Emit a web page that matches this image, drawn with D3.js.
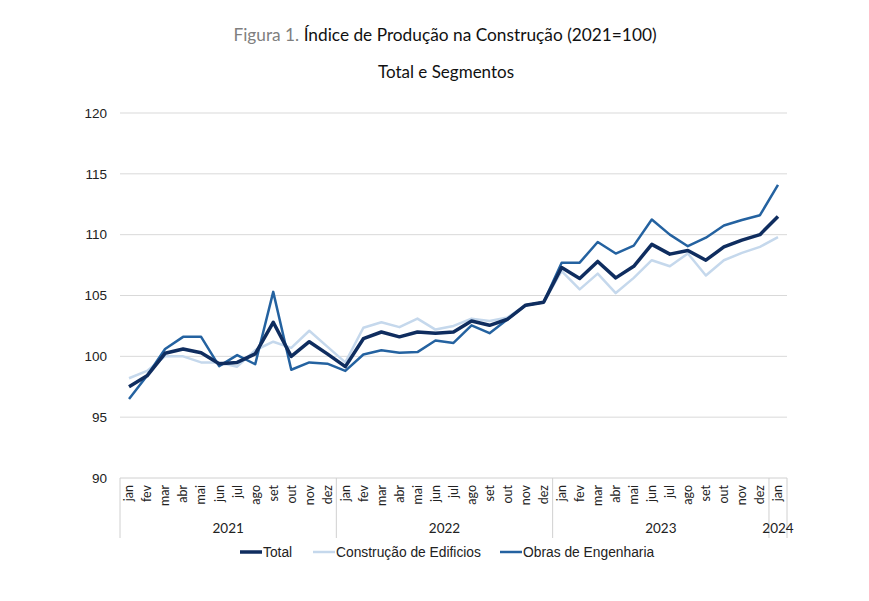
<!DOCTYPE html>
<html><head><meta charset="utf-8">
<script src="https://cdn.jsdelivr.net/npm/d3@7"></script>
<style>body{margin:0;background:#fff}</style>
</head><body>
<script>
const months = ["jan","fev","mar","abr","mai","jun","jul","ago","set","out","nov","dez"];
const years = ["2021","2022","2023","2024"];
const categories = [];
years.forEach((y,yi)=>{ const n = y==="2024"?1:12; for(let m=0;m<n;m++) categories.push({year:y, month:months[m], key:y+"-"+m}); });
const total = [97.5,98.4,100.25,100.6,100.3,99.4,99.5,100.2,102.8,100.0,101.2,100.2,
  99.15,101.45,102.0,101.6,102.0,101.9,102.0,102.9,102.55,103.05,104.2,104.45,
  107.3,106.4,107.8,106.45,107.4,109.2,108.4,108.7,107.9,109.0,109.55,110.0,
  111.5];
const edificios = [98.2,98.8,100.0,100.0,99.5,99.5,99.15,100.5,101.2,100.7,102.1,100.8,
  99.5,102.35,102.8,102.4,103.1,102.2,102.5,103.1,102.9,103.2,104.2,104.45,
  107.0,105.5,106.8,105.2,106.45,107.9,107.4,108.45,106.65,107.9,108.5,109.0,
  109.8];
const obras = [96.5,98.4,100.6,101.6,101.6,99.2,100.1,99.35,105.3,98.9,99.5,99.4,
  98.8,100.15,100.5,100.3,100.35,101.3,101.1,102.55,101.9,103.05,104.2,104.45,
  107.7,107.7,109.4,108.45,109.1,111.25,110.0,109.05,109.75,110.75,111.2,111.6,
  114.1];
const yTicks = [90,95,100,105,110,115,120];
const series = [
  {name:"Total", values: total, color:"#0f2d5f", width:3.5},
  {name:"Construção de Edificios", values: edificios, color:"#c5d8ec", width:2.5},
  {name:"Obras de Engenharia", values: obras, color:"#2462a0", width:2.5}
];

const W=869,H=601;
const svg=d3.select("body").append("svg").attr("width",W).attr("height",H);
const x=d3.scaleBand().domain(categories.map(d=>d.key)).range([120,787]);
const y=d3.scaleLinear().domain([90,120]).range([478,113]);
const cx=k=>x(k)+x.bandwidth()/2;

// title
const t=svg.append("text").attr("x",445).attr("y",41).attr("text-anchor","middle")
  .style("font-family","Lato, 'Open Sans', sans-serif").style("font-size","17.3px");
t.append("tspan").attr("fill","#7f7f7f").text("Figura 1. ");
t.append("tspan").attr("fill","#111").text("Índice de Produção na Construção (2021=100)");
svg.append("text").attr("x",446).attr("y",78).attr("text-anchor","middle")
  .style("font-family","Lato, 'Open Sans', sans-serif").style("font-size","17px").attr("fill","#111")
  .text("Total e Segmentos");

// gridlines
svg.append("g").selectAll("line").data(yTicks).join("line")
  .attr("x1",120).attr("x2",787).attr("y1",d=>y(d)).attr("y2",d=>y(d))
  .attr("stroke",d=>d===90?"#d0d0d0":"#d9d9d9").attr("stroke-width",1);
// y labels
const yAxis=d3.axisLeft(y).tickValues(yTicks).tickSize(0).tickPadding(0);
const ya=svg.append("g").attr("transform","translate(107,0)").call(yAxis);
ya.select(".domain").remove();
ya.selectAll("text").style("font-family","'Liberation Sans', Arial, sans-serif").style("font-size","13.5px").attr("fill","#222");

// x month labels
const xAxis=d3.axisBottom(x).tickSize(0).tickFormat(k=>categories.find(c=>c.key===k).month);
const xa=svg.append("g").attr("transform","translate(0,478)").call(xAxis);
xa.select(".domain").remove();
xa.selectAll("text").attr("transform","rotate(-90)").attr("text-anchor","end")
  .attr("x",-7).attr("y",0).attr("dy","0.35em")
  .style("font-family","Lato, 'Open Sans', sans-serif").style("font-size","12.5px").attr("fill","#222");

// year separators
const sepX=[120];
years.forEach(yr=>{ const ks=categories.filter(c=>c.year===yr); sepX.push(x(ks[ks.length-1].key)+x.bandwidth()); });
svg.append("g").selectAll("line").data(sepX).join("line")
  .attr("x1",d=>d).attr("x2",d=>d).attr("y1",478).attr("y2",538)
  .attr("stroke","#d0d0d0").attr("stroke-width",1);
// year labels
svg.append("g").selectAll("text").data(years).join("text")
  .attr("x",yr=>{const ks=categories.filter(c=>c.year===yr); return (x(ks[0].key)+x(ks[ks.length-1].key)+x.bandwidth())/2;})
  .attr("y",533).attr("text-anchor","middle")
  .style("font-family","Lato, 'Open Sans', sans-serif").style("font-size","13.5px").attr("fill","#222")
  .text(d=>d);

// lines
const line=d3.line().x((v,i)=>cx(categories[i].key)).y(v=>y(v));
[series[1],series[2],series[0]].forEach(s=>{
  svg.append("path").attr("d",line(s.values)).attr("fill","none")
    .attr("stroke",s.color).attr("stroke-width",s.width).attr("stroke-linejoin","round");
});

// legend
const legX=[240,313,500];
const lg=svg.append("g");
series.forEach((s,i)=>{
  lg.append("line").attr("x1",legX[i]).attr("x2",legX[i]+22).attr("y1",552).attr("y2",552)
    .attr("stroke",s.color).attr("stroke-width",s.width);
  lg.append("text").attr("x",legX[i]+23).attr("y",557)
    .style("font-family","'Liberation Sans', Arial, sans-serif").style("font-size","13.8px").attr("fill","#222")
    .text(s.name);
});
</script>
</body></html>
